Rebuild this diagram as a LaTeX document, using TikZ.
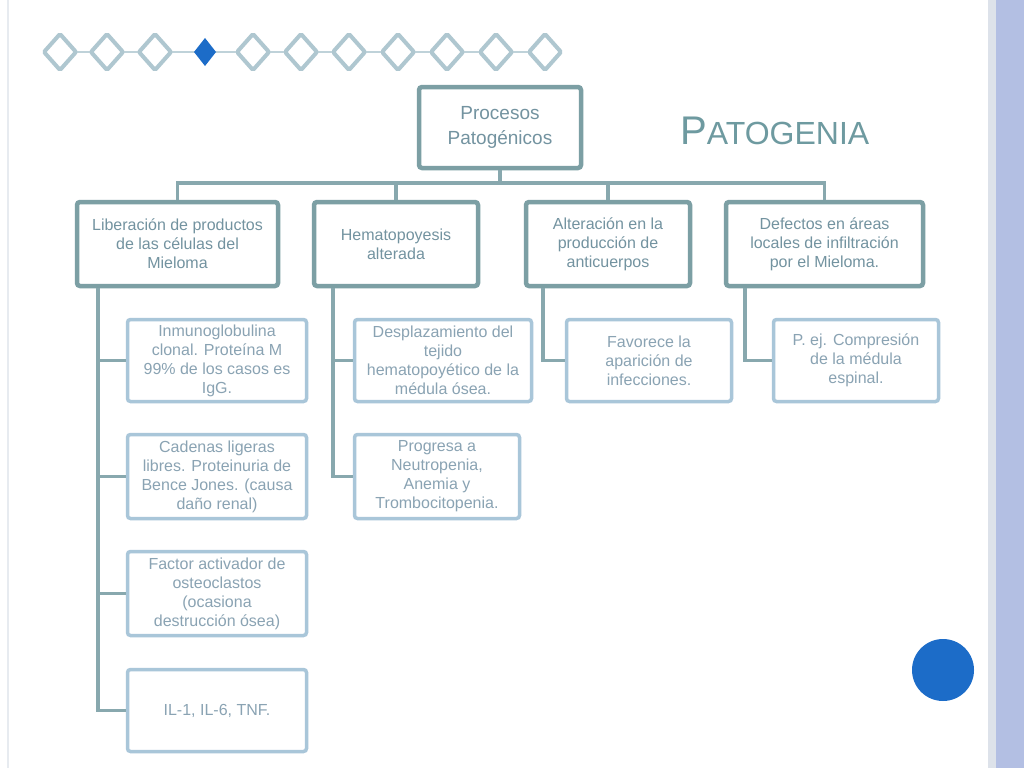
\documentclass[tikz,border=0pt]{standalone}
\usepackage{fontspec}
\setmainfont{Liberation Sans}
\definecolor{lonecol}{HTML}{7C9FA4}
\definecolor{lonetext}{HTML}{7393A0}
\definecolor{ltwocol}{HTML}{A9C6D9}
\definecolor{ltwotext}{HTML}{8AA3B3}
\definecolor{conncol}{HTML}{88A8AE}
\definecolor{diacol}{HTML}{AFC7D0}
\definecolor{bluedot}{HTML}{1C6CC8}
\definecolor{sidegray}{HTML}{DDE2EA}
\definecolor{sideblue}{HTML}{B3BFE3}
\definecolor{titlecol}{HTML}{6E9AA0}
\begin{document}
\begin{tikzpicture}[x=1pt,y=-1pt,
  topbox/.style={draw=lonecol, line width=4.5pt, rounded corners=3pt, fill=white,
    text=lonetext, align=center, inner sep=2pt, font=\fontsize{19}{25}\selectfont},
  lonebox/.style={draw=lonecol, line width=4.5pt, rounded corners=3pt, fill=white,
    text=lonetext, align=center, inner sep=1pt, minimum height=84pt, font=\fontsize{16}{19}\selectfont},
  ltwobox/.style={draw=ltwocol, line width=3.5pt, rounded corners=3pt, fill=white,
    text=ltwotext, align=center, inner sep=1pt, font=\fontsize{16}{19}\selectfont},
  conn/.style={draw=conncol, line width=3.5pt},
  dia/.style={draw=diacol, line width=4pt, fill=white, rounded corners=1.5pt},
]
\useasboundingbox (0,0) rectangle (1024,768);
\fill[white] (0,0) rectangle (1024,768);
% page edges
\draw[draw=sidegray!70, line width=1.5pt] (8,0) -- (8,768);
\fill[sidegray] (988,0) rectangle (996,768);
\fill[sideblue] (996,0) rectangle (1024,768);

% diamond chain
\draw[draw=diacol!80, line width=2.5pt] (60,52) -- (545,52);
\foreach \cx in {60,107,155,253,301,349,398,447,496,545}{
  \draw[dia] (\cx-16,52) -- (\cx,34) -- (\cx+16,52) -- (\cx,70) -- cycle;
}
\fill[bluedot] (194,52) -- (205,38) -- (216,52) -- (205,66) -- cycle;

% title
\node[text=titlecol, anchor=west, inner sep=0pt] (title) at (680,131)
  {{\fontsize{40}{40}\selectfont P}{\fontsize{32}{32}\selectfont ATOGENIA}};

% top node
\node[topbox, minimum width=162pt, minimum height=81pt] (top) at (500,127.5)
  {Procesos\\Patogénicos};

% level 1
\node[lonebox, minimum width=201pt] (a1) at (177.5,244)
  {Liberación de productos\\de las células del\\Mieloma};
\node[lonebox, minimum width=164pt] (a2) at (396,244)
  {Hematopoyesis\\alterada};
\node[lonebox, minimum width=164pt] (a3) at (608,244)
  {Alteración en la\\producción de\\anticuerpos};
\node[lonebox, minimum width=197pt] (a4) at (824.5,244)
  {Defectos en áreas\\locales de infiltración\\por el Mieloma.};

% level 2
\node[ltwobox, minimum width=179pt, minimum height=82pt] (b1) at (217,360.5)
  {Inmunoglobulina\\clonal. Proteína M\\99\% de los casos es\\IgG.};
\node[ltwobox, minimum width=179pt, minimum height=84pt] (b2) at (217,476.5)
  {Cadenas ligeras\\libres. Proteinuria de\\Bence Jones. (causa\\daño renal)};
\node[ltwobox, minimum width=179pt, minimum height=84pt] (b3) at (217,593.5)
  {Factor activador de\\osteoclastos\\(ocasiona\\destrucción ósea)};
\node[ltwobox, minimum width=179pt, minimum height=82pt] (b4) at (217,710.5)
  {IL-1, IL-6, TNF.};
\node[ltwobox, minimum width=177pt, minimum height=82pt] (c1) at (443,360.5)
  {Desplazamiento del\\tejido\\hematopoyético de la\\médula ósea.};
\node[ltwobox, minimum width=165pt, minimum height=84pt] (c2) at (437,476.5)
  {Progresa a\\Neutropenia,\\Anemia y\\Trombocitopenia.};
\node[ltwobox, minimum width=165pt, minimum height=82pt] (d1) at (649,360.5)
  {Favorece la\\aparición de\\infecciones.};
\node[ltwobox, minimum width=165pt, minimum height=82pt] (e1) at (856,360.5)
  {P. ej. Compresión\\de la médula\\espinal.};

% connectors top -> level 1
\coordinate (bus) at (500,183);
\draw[conn] (top.south) -- (bus);
\draw[conn] (bus) -| (a1.north);
\draw[conn] (bus) -| (a2.north);
\draw[conn] (bus) -| (a3.north);
\draw[conn] (bus) -| (a4.north);

% level 1 -> level 2
\coordinate (sa1) at ([xshift=23pt]a1.south west);
\coordinate (sa2) at ([xshift=21pt]a2.south west);
\coordinate (sa3) at ([xshift=19pt]a3.south west);
\coordinate (sa4) at ([xshift=21pt]a4.south west);
\foreach \t in {b1,b2,b3,b4}{ \draw[conn] (sa1) |- (\t.west); }
\foreach \t in {c1,c2}{ \draw[conn] (sa2) |- (\t.west); }
\draw[conn] (sa3) |- (d1.west);
\draw[conn] (sa4) |- (e1.west);

% blue dot
\fill[bluedot] (943,670) circle (31pt);
\end{tikzpicture}
\end{document}
